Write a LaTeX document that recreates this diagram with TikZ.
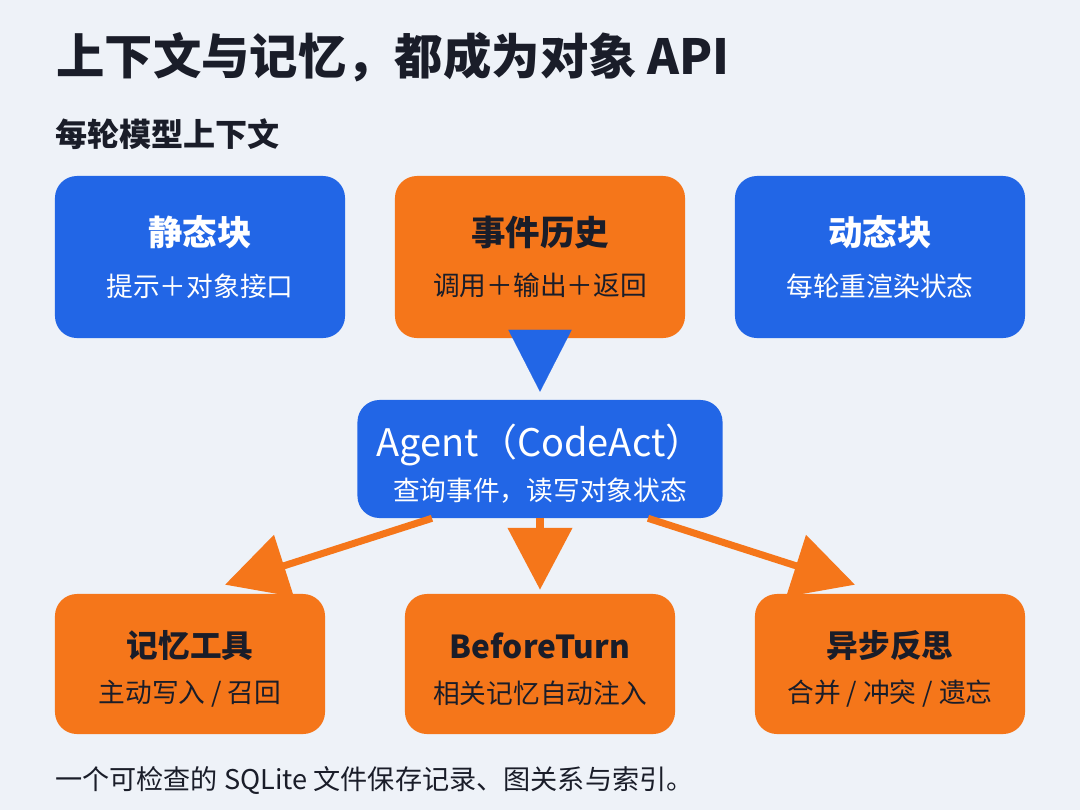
\documentclass[tikz,border=0pt]{standalone}
\usepackage{fontspec}
\setmainfont{Noto Sans CJK SC}
\usetikzlibrary{arrows.meta}

\definecolor{bgcol}{HTML}{EEF2F8}
\definecolor{cblue}{HTML}{2266E6}
\definecolor{corange}{HTML}{F5761A}
\definecolor{cdark}{HTML}{1A1D29}

\newcommand{\boxtitle}[1]{{\fontsize{24.5pt}{40pt}\selectfont\bfseries #1}}
\newcommand{\lowtitle}[1]{{\fontsize{22.5pt}{40pt}\selectfont\bfseries\rule{0pt}{25.5pt}#1}}
\newcommand{\boxsub}[1]{{\fontsize{19pt}{40pt}\selectfont #1}}

\begin{document}
\begin{tikzpicture}[x=0.025cm, y=-0.025cm,
  box/.style={rectangle, rounded corners=0.55cm, align=center, inner sep=0pt,
              font=\fontsize{19pt}{38pt}\selectfont},
  bigbox/.style={box, minimum width=7.25cm, minimum height=4.05cm},
  smallbox/.style={box, minimum width=6.75cm, minimum height=3.5cm},
  bluefill/.style={fill=cblue, text=white},
  orangefill/.style={fill=corange, text=cdark},
  flow/.style={draw=corange, line width=5pt, -{Triangle[width=45pt, length=44pt, fill=corange]}},
  pointer/.style={draw=cblue, line width=0.1pt, -{Triangle[width=45pt, length=44pt, fill=cblue]}}]

  % Background
  \fill[bgcol] (0,0) rectangle (1080,810);
  \useasboundingbox (0,0) rectangle (1080,810);

  % Heading
  \node[anchor=base west, inner sep=0pt, text=cdark, font=\fontsize{34.4pt}{40pt}\selectfont\bfseries]
    (heading) at (56,74) {上下文与记忆，都成为对象 API};
  \node[anchor=base west, inner sep=0pt, text=cdark, font=\fontsize{22.8pt}{30pt}\selectfont\bfseries]
    (subhead) at (55,146) {每轮模型上下文};

  % Context Blocks
  \node[bigbox, bluefill] (static) at (200,257) {\boxtitle{静态块}\\[-2pt]\boxsub{提示＋对象接口}};
  \node[bigbox, orangefill] (hist) at (540,257) {\boxtitle{事件历史}\\[-2pt]\boxsub{调用＋输出＋返回}};
  \node[bigbox, bluefill] (dynamic) at (880,257) {\boxtitle{动态块}\\[-2pt]\boxsub{每轮重渲染状态}};

  % Agent
  \node[box, bluefill, minimum width=9.125cm, minimum height=2.95cm] (agent) at (540,459)
    {{\fontsize{27pt}{40pt}\selectfont\rule{0pt}{30pt}Agent（CodeAct）}\\[-7pt]\boxsub{查询事件，读写对象状态}};

  % Memory Paths
  \node[smallbox, orangefill] (memtool) at (190,664) {\lowtitle{记忆工具}\\[-6pt]\boxsub{主动写入 / 召回}};
  \node[smallbox, orangefill] (before) at (540,664) {\lowtitle{BeforeTurn}\\[-6pt]\boxsub{相关记忆自动注入}};
  \node[smallbox, orangefill] (reflect) at (890,664) {\lowtitle{异步反思}\\[-6pt]\boxsub{合并 / 冲突 / 遗忘}};

  % Footer
  \node[anchor=base west, inner sep=0pt, text=cdark, font=\fontsize{19.3pt}{24pt}\selectfont]
    (footer) at (55,789) {一个可检查的 SQLite 文件保存记录、图关系与索引。};

  % Arrows
  \draw[pointer] ([yshift=0.2cm]hist.south) -- ([yshift=0.2cm]agent.north);
  \draw[flow] ([xshift=-2.7cm]agent.south) -- ([xshift=0.875cm, yshift=0.225cm]memtool.north);
  \draw[flow] (agent.south) -- ([yshift=0.1cm]before.north);
  \draw[flow] ([xshift=2.7cm]agent.south) -- ([xshift=-0.875cm, yshift=0.225cm]reflect.north);
\end{tikzpicture}
\end{document}
